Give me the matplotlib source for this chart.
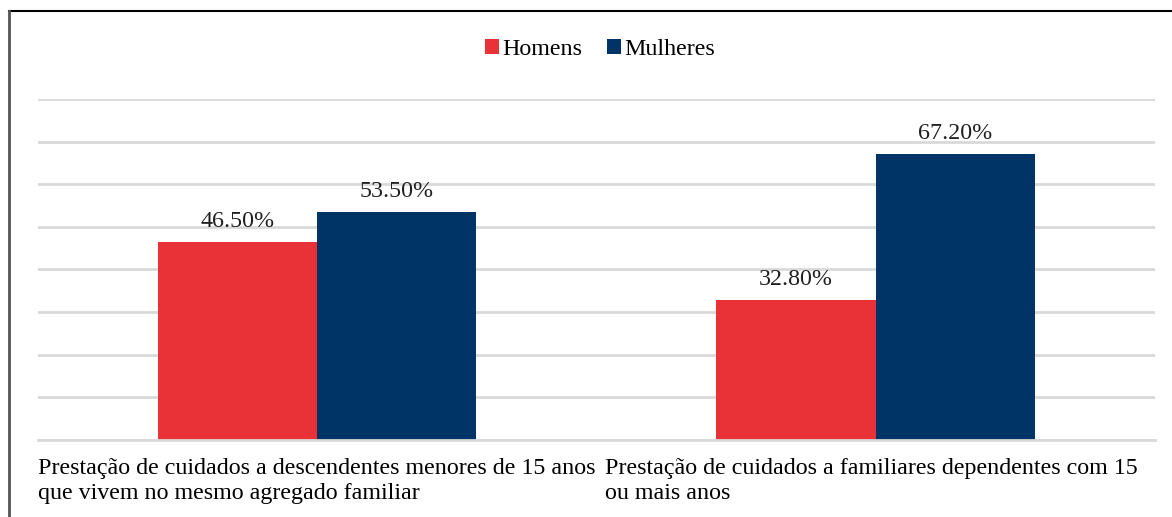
import matplotlib
matplotlib.use("Agg")
import matplotlib.pyplot as plt
from matplotlib.lines import Line2D
import numpy as np

categorias = ["Prestação de cuidados a descendentes menores de 15 anos\nque vivem no mesmo agregado familiar",
              "Prestação de cuidados a familiares dependentes com 15\nou mais anos"]
homens = [46.5, 32.8]
mulheres = [53.5, 67.2]
series = ["Homens", "Mulheres"]

plt.rcParams['font.family'] = ['Liberation Serif', 'DejaVu Serif']
fs = 17.3

fig = plt.figure(figsize=(11.72, 5.17), dpi=100)
ax = fig.add_axes([0.0324, 0.149, 0.953, 0.6595])

x = np.arange(len(categorias))
w = 0.285
b1 = ax.bar(x - w/2, homens, w, color='#E83238', label=series[0])
b2 = ax.bar(x + w/2, mulheres, w, color='#003366', label=series[1])

for bars, vals in [(b1, homens), (b2, mulheres)]:
    for b, v in zip(bars, vals):
        ax.annotate('%.2f%%' % v, (b.get_x() + b.get_width()/2, v),
                    xytext=(0, 7), textcoords='offset points',
                    ha='center', va='bottom', fontsize=fs, color='#202020')

ax.set_xlim(-0.5, 1.5)
ax.set_ylim(0, 80)
ax.set_yticks(np.arange(0, 81, 10))
ax.yaxis.grid(True, color='#D9D9D9', linewidth=2)
ax.set_axisbelow(True)
ax.tick_params(left=False, bottom=False, labelleft=False, labelbottom=False)
for s in ['top', 'right', 'left']:
    ax.spines[s].set_visible(False)
ax.spines['bottom'].set_color('#D9D9D9')
ax.spines['bottom'].set_linewidth(2)

# category labels, left aligned under each group
ax.text(-0.5, -0.052, categorias[0], transform=ax.get_xaxis_transform(),
        ha='left', va='top', fontsize=fs, linespacing=1.3)
ax.text(0.516, -0.052, categorias[1], transform=ax.get_xaxis_transform(),
        ha='left', va='top', fontsize=fs, linespacing=1.3)

fig.legend(loc='center', bbox_to_anchor=(0.512, 0.905), ncol=2, frameon=False,
           fontsize=fs, handlelength=0.6, handleheight=0.6,
           handletextpad=0.15, columnspacing=1.0)

# frame lines of the chart area
fig.add_artist(Line2D([0.0075, 1.0], [0.979, 0.979], color='black', linewidth=1.5))
fig.add_artist(Line2D([0.0075, 0.0075], [0.979, 0.0], color='#555555', linewidth=2))

fig.savefig('out.png', dpi=100)
